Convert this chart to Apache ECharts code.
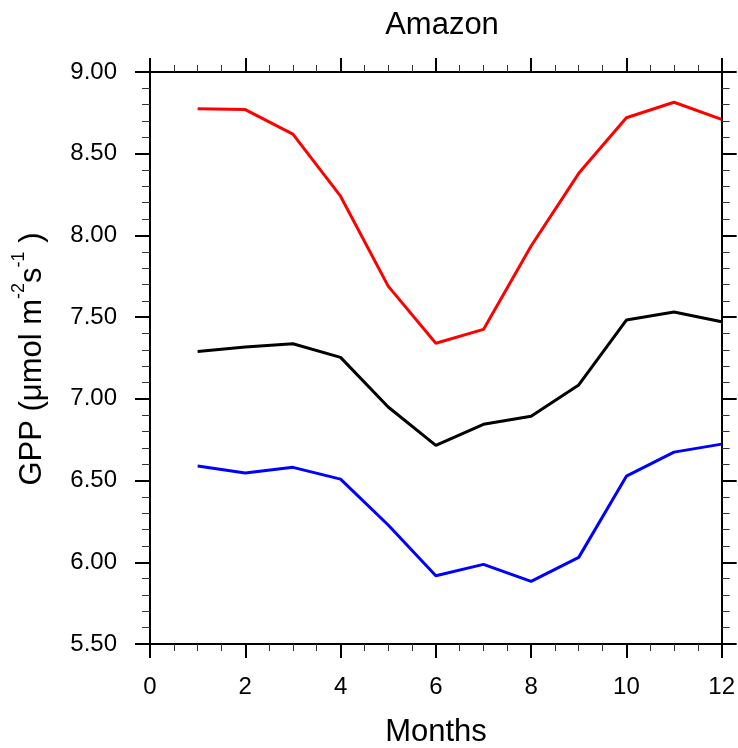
<!DOCTYPE html>
<html>
<head>
<meta charset="utf-8">
<script src="https://cdn.jsdelivr.net/npm/echarts@6/dist/echarts.min.js"></script>
<style>html,body{margin:0;padding:0;background:#fff;}#chart{width:738px;height:748px;}</style>
</head>
<body>
<div id="chart"></div>
<script>
const months = [1, 2, 3, 4, 5, 6, 7, 8, 9, 10, 11, 12];
const redSeries = [8.775, 8.77, 8.62, 8.24, 7.69, 7.34, 7.425, 7.935, 8.38, 8.72, 8.815, 8.71];
const blackSeries = [7.29, 7.317, 7.337, 7.254, 6.95, 6.715, 6.844, 6.893, 7.085, 7.482, 7.531, 7.472];
const blueSeries = [6.589, 6.546, 6.581, 6.509, 6.228, 5.918, 5.987, 5.883, 6.03, 6.527, 6.674, 6.723];
const xTicks = [0, 2, 4, 6, 8, 10, 12];
const yTicks = [5.5, 6.0, 6.5, 7.0, 7.5, 8.0, 8.5, 9.0];
const titleText = 'Amazon';
const xName = 'Months';

const FONT = '"Liberation Sans", Arial, Helvetica, sans-serif';
const chart = echarts.init(document.getElementById('chart'), null, {renderer: 'canvas'});

function pairs(ys) { return months.map((m, i) => [m, ys[i]]); }

function makeX(pos, showLabel) {
  return {
    type: 'value', position: pos, min: xTicks[0], max: xTicks[xTicks.length - 1], interval: 2,
    axisLine: {show: true, onZero: false, lineStyle: {color: '#000', width: 2}},
    axisTick: {show: true, inside: false, length: 14, lineStyle: {color: '#000', width: 2}},
    minorTick: {show: true, splitNumber: 4, length: 7, lineStyle: {color: '#333', width: 1}},
    splitLine: {show: false},
    axisLabel: {show: showLabel, margin: 31, fontSize: 24, color: '#000', fontFamily: FONT,
      formatter: v => String(v)}
  };
}
function makeY(pos, showLabel) {
  return {
    type: 'value', position: pos, min: yTicks[0], max: yTicks[yTicks.length - 1], interval: 0.5,
    axisLine: {show: true, onZero: false, lineStyle: {color: '#000', width: 2}},
    axisTick: {show: true, inside: false, length: 15, lineStyle: {color: '#000', width: 2}},
    minorTick: {show: true, splitNumber: 5, length: 8, lineStyle: {color: '#333', width: 1}},
    splitLine: {show: false},
    axisLabel: {show: showLabel, margin: 33, fontSize: 24, color: '#000', fontFamily: FONT,
      formatter: v => v.toFixed(2)}
  };
}

const lineCommon = {type: 'line', showSymbol: false, symbol: 'none', animation: false, smooth: false};

chart.setOption({
  backgroundColor: '#fff',
  animation: false,
  title: {
    text: titleText, left: 437, top: 5, textAlign: 'center',
    textStyle: {fontSize: 31, fontWeight: 'normal', color: '#000', fontFamily: FONT}
  },
  grid: {left: 150, right: 16, top: 72, bottom: 104, containLabel: false},
  xAxis: [makeX('bottom', true), makeX('top', false)],
  yAxis: [makeY('left', true), makeY('right', false)],
  series: [
    Object.assign({}, lineCommon, {name: 'red', data: pairs(redSeries), lineStyle: {color: '#ff0000', width: 3}, itemStyle: {color: '#ff0000'}}),
    Object.assign({}, lineCommon, {name: 'black', data: pairs(blackSeries), lineStyle: {color: '#000000', width: 3}, itemStyle: {color: '#000000'}}),
    Object.assign({}, lineCommon, {name: 'blue', data: pairs(blueSeries), lineStyle: {color: '#0000ff', width: 3}, itemStyle: {color: '#0000ff'}})
  ],
  graphic: [
    {
      type: 'text', x: 436, y: 732,
      style: {text: xName, font: '31px ' + FONT, fill: '#000', align: 'center', verticalAlign: 'middle', textAlign: 'center', textVerticalAlign: 'middle'}
    },
    {
      type: 'text', x: 32, y: 359, rotation: Math.PI / 2,
      style: {
        text: '{a|GPP (\u03bcmol m}{s|-2}{a|s}{s|-1}{a| )}',
        fill: '#000', align: 'center', verticalAlign: 'middle', textAlign: 'center', textVerticalAlign: 'middle',
        rich: {
          a: {fontSize: 31, fontFamily: FONT, fill: '#000', color: '#000', lineHeight: 44, verticalAlign: 'middle'},
          s: {fontSize: 18, fontFamily: FONT, fill: '#000', color: '#000', lineHeight: 18, verticalAlign: 'top'}
        }
      }
    }
  ]
});
</script>
</body>
</html>
